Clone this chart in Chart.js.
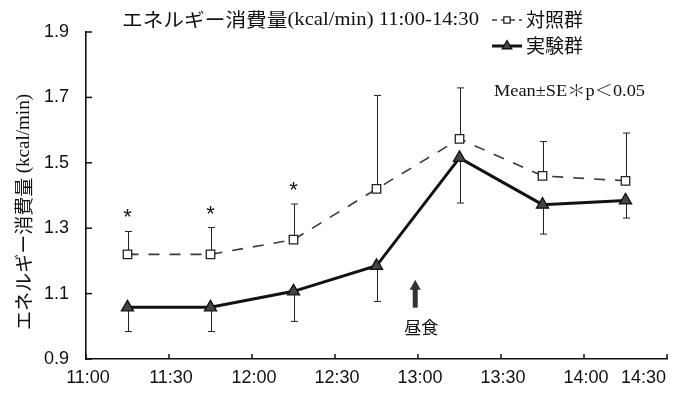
<!DOCTYPE html>
<html>
<head>
<meta charset="utf-8">
<script src="https://cdn.jsdelivr.net/npm/chart.js@4/dist/chart.umd.min.js"></script>
<style>
  html, body { margin: 0; padding: 0; background: #fff; }
  #wrap { width: 688px; height: 393px; }
</style>
</head>
<body>
<div id="wrap"><canvas id="c" width="688" height="393"></canvas></div>
<script>
// Sampling times, minutes after 11:00
const times = [15, 45, 75, 105, 135, 165, 195];
const xTickLabels = ['11:00', '11:30', '12:00', '12:30', '13:00', '13:30', '14:00', '14:30'];

// Energy expenditure (kcal/min), mean and SE
const controlMean = [1.22, 1.22, 1.265, 1.42, 1.573, 1.46, 1.445];
const controlSE   = [0.07, 0.082, 0.109, 0.286, 0.156, 0.105, 0.146];
const expMean     = [1.058, 1.058, 1.107, 1.185, 1.515, 1.372, 1.385];
const expSE       = [0.074, 0.074, 0.092, 0.109, 0.138, 0.09, 0.054];

// p < 0.05 between groups
const significant = [true, true, true, false, false, false, false];

// Lunch marker (minutes after 11:00)
const lunchAt = 119;

const JP = '"Noto Sans CJK JP", sans-serif';
const SERIF = '"Liberation Serif", "Noto Serif CJK JP", "Noto Sans CJK JP", serif';
const SANS = '"Liberation Sans", Arial, sans-serif';

// Draw a run of differently-fonted text pieces, optionally squeezed to a width
function drawRuns(ctx, runs, x, y, targetWidth) {
  ctx.save();
  let total = 0;
  const widths = runs.map(r => { ctx.font = r.font; const w = ctx.measureText(r.text).width; total += w; return w; });
  ctx.translate(x, y);
  if (targetWidth) ctx.scale(targetWidth / total, 1);
  ctx.textBaseline = 'middle';
  ctx.textAlign = 'left';
  ctx.fillStyle = '#111';
  let cx = 0;
  runs.forEach((r, i) => { ctx.font = r.font; ctx.fillText(r.text, cx, 0); cx += widths[i]; });
  ctx.restore();
}

const errorBars = {
  id: 'errorBars',
  beforeDatasetsDraw(chart) {
    const { ctx, scales: { x, y } } = chart;
    ctx.save();
    ctx.strokeStyle = '#222';
    ctx.lineWidth = 1;
    const cap = 3.5;
    const bar = (t, from, to) => {
      const px = Math.round(x.getPixelForValue(t)) + 0.5;
      const p0 = y.getPixelForValue(from), p1 = y.getPixelForValue(to);
      ctx.beginPath();
      ctx.moveTo(px, p0); ctx.lineTo(px, p1);
      ctx.moveTo(px - cap, p1); ctx.lineTo(px + cap, p1);
      ctx.stroke();
    };
    times.forEach((t, i) => {
      bar(t, controlMean[i], controlMean[i] + controlSE[i]);
      bar(t, expMean[i], expMean[i] - expSE[i]);
    });
    ctx.restore();
  }
};

const decorations = {
  id: 'decorations',
  afterDraw(chart) {
    const { ctx, scales: { x, y }, chartArea: a } = chart;
    ctx.save();
    // inward tick marks
    ctx.strokeStyle = '#111';
    ctx.lineWidth = 1.5;
    y.ticks.forEach(tk => {
      const py = y.getPixelForValue(tk.value);
      ctx.beginPath(); ctx.moveTo(a.left, py); ctx.lineTo(a.left + 6, py); ctx.stroke();
    });
    x.ticks.forEach(tk => {
      const px = x.getPixelForValue(tk.value);
      ctx.beginPath(); ctx.moveTo(px, a.bottom); ctx.lineTo(px, a.bottom - 5); ctx.stroke();
    });

    // time labels; the last one is kept inside the canvas
    ctx.fillStyle = '#111';
    ctx.font = '18px ' + SANS;
    ctx.textBaseline = 'middle';
    const last = x.ticks.length - 1;
    x.ticks.forEach((tk, i) => {
      const px = x.getPixelForValue(tk.value);
      ctx.textAlign = i === last ? 'right' : 'center';
      ctx.fillText(xTickLabels[i], i === last ? px - 1 : px + 2, a.bottom + 19);
    });

    // significance asterisks
    ctx.font = '22px ' + SANS;
    ctx.textAlign = 'center';
    ctx.textBaseline = 'alphabetic';
    times.forEach((t, i) => {
      if (!significant[i]) return;
      const px = x.getPixelForValue(t);
      const py = y.getPixelForValue(controlMean[i] + controlSE[i]);
      ctx.fillText('*', px, py - 7);
    });

    // lunch arrow
    const ax = x.getPixelForValue(lunchAt);
    const tip = y.getPixelForValue(1.142), tail = y.getPixelForValue(1.057);
    ctx.fillStyle = '#333';
    ctx.fillRect(ax - 2.5, tip + 8, 5, tail - tip - 8);
    ctx.beginPath();
    ctx.moveTo(ax, tip); ctx.lineTo(ax + 5.5, tip + 10); ctx.lineTo(ax - 5.5, tip + 10); ctx.closePath();
    ctx.fill();
    ctx.fillStyle = '#111';
    ctx.font = '17px ' + JP;
    ctx.textAlign = 'center';
    ctx.textBaseline = 'middle';
    ctx.fillText('昼食', ax + 6, y.getPixelForValue(0.995));

    // title
    drawRuns(ctx, [
      { text: 'エネルギー消費量', font: '19px ' + JP },
      { text: '(kcal/min) 11:00-14:30', font: '19px ' + SERIF }
    ], 122, 20, 357);

    // legend
    const ds = chart.data.datasets;
    const rows = [{ d: ds[0], y: 20 }, { d: ds[1], y: 46 }];
    rows.forEach(r => {
      const d = r.d;
      ctx.save();
      ctx.strokeStyle = d.borderColor;
      ctx.lineWidth = d.borderWidth;
      ctx.setLineDash(d.borderDash ? [5, 4] : []);
      ctx.beginPath(); ctx.moveTo(492, r.y); ctx.lineTo(522, r.y); ctx.stroke();
      ctx.setLineDash([]);
      ctx.fillStyle = d.pointBackgroundColor;
      ctx.strokeStyle = d.pointBorderColor;
      ctx.lineWidth = d.pointBorderWidth;
      Chart.helpers.drawPoint(ctx, { pointStyle: d.pointStyle, radius: d.pointRadius - 1.5, borderWidth: d.pointBorderWidth, rotation: 0 }, 507, r.y);
      ctx.restore();
      drawRuns(ctx, [{ text: d.label, font: '19px ' + JP }], 526, r.y);
    });

    // statistics note
    drawRuns(ctx, [{ text: 'Mean±SE＊p＜0.05', font: '16px ' + SERIF }], 494, 92, 151);

    // y-axis title, rotated
    ctx.save();
    ctx.translate(24, 330);
    ctx.rotate(-Math.PI / 2);
    drawRuns(ctx, [
      { text: 'エネルギー消費量 ', font: '19px ' + JP },
      { text: '(kcal/min)', font: '19px ' + SERIF }
    ], 0, 0, 236);
    ctx.restore();

    ctx.restore();
  }
};

new Chart(document.getElementById('c'), {
  type: 'line',
  data: {
    datasets: [
      {
        label: '対照群',
        data: times.map((t, i) => ({ x: t, y: controlMean[i] })),
        borderColor: '#3a3a3a',
        borderWidth: 1.6,
        borderDash: [11, 10],
        pointStyle: 'rect',
        pointRadius: 6,
        pointBackgroundColor: '#ffffff',
        pointBorderColor: '#222',
        pointBorderWidth: 1.3,
        tension: 0
      },
      {
        label: '実験群',
        data: times.map((t, i) => ({ x: t, y: expMean[i] })),
        borderColor: '#111',
        borderWidth: 3,
        pointStyle: 'triangle',
        pointRadius: 7,
        pointBackgroundColor: '#444',
        pointBorderColor: '#111',
        pointBorderWidth: 1.3,
        tension: 0
      }
    ]
  },
  options: {
    responsive: false,
    animation: false,
    events: [],
    layout: { padding: { top: 32, right: 21, bottom: 0, left: 0 } },
    plugins: { legend: { display: false }, tooltip: { enabled: false } },
    scales: {
      x: {
        type: 'linear',
        min: 0,
        max: 210,
        afterFit(s) { s.height = 34; s.paddingLeft = 0; s.paddingRight = 0; },
        ticks: {
          stepSize: 30,
          autoSkip: false,
          maxRotation: 0,
          padding: 6,
          color: 'rgba(0,0,0,0)',
          font: { family: SANS, size: 18 },
          callback: (v, i) => xTickLabels[i]
        },
        grid: { display: true, drawOnChartArea: false, drawTicks: false },
        border: { color: '#111', width: 1.6 }
      },
      y: {
        min: 0.9,
        max: 1.9,
        afterFit(s) { s.width = 86; s.paddingTop = 0; s.paddingBottom = 0; },
        ticks: {
          stepSize: 0.2,
          padding: 17,
          color: '#111',
          font: { family: SANS, size: 18 },
          callback: v => v.toFixed(1)
        },
        grid: { display: true, drawOnChartArea: false, drawTicks: false },
        border: { color: '#111', width: 1.6 }
      }
    }
  },
  plugins: [errorBars, decorations]
});
</script>
</body>
</html>
